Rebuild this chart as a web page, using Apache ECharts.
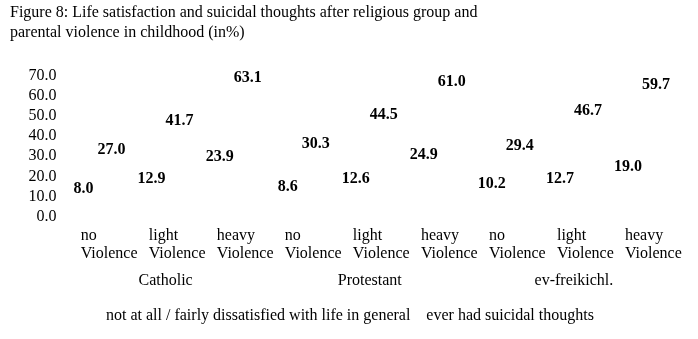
<!DOCTYPE html>
<html>
<head>
<meta charset="utf-8">
<script src="https://cdn.jsdelivr.net/npm/echarts@6/dist/echarts.min.js"></script>
<style>html,body{margin:0;padding:0;background:#fff}#c{width:698px;height:339px}</style>
</head>
<body>
<div id="c"></div>
<script>
var categories = ['no\nViolence','light\nViolence','heavy\nViolence','no\nViolence','light\nViolence','heavy\nViolence','no\nViolence','light\nViolence','heavy\nViolence'];
var groups = ['Catholic','Protestant','ev-freikichl.'];
var dissatisfied = [8.0, 12.9, 23.9, 8.6, 12.6, 24.9, 10.2, 12.7, 19.0];
var suicidal = [27.0, 41.7, 63.1, 30.3, 44.5, 61.0, 29.4, 46.7, 59.7];
var seriesNames = ['not at all / fairly dissatisfied with life in general', 'ever had suicidal thoughts'];
var titleText = 'Figure 8: Life satisfaction and suicidal thoughts after religious group and\nparental violence in childhood (in%)';

var FONT = 'Liberation Serif';
var chart = echarts.init(document.getElementById('c'), null, {renderer: 'canvas'});
var hidden = {show: false};
function labelCfg() {
  return {show: true, position: 'top', distance: 4, color: '#000', fontFamily: FONT, fontSize: 16, fontWeight: 'bold',
    formatter: function (p) { return p.value.toFixed(1); }};
}
chart.setOption({
  animation: false,
  backgroundColor: '#fff',
  title: {text: titleText, left: 10, top: 3, padding: 0,
    textStyle: {fontFamily: FONT, fontSize: 16, fontWeight: 'normal', color: '#000', lineHeight: 20}},
  legend: {data: seriesNames, left: 101, top: 308, padding: 0, itemWidth: 0, itemHeight: 0, itemGap: 11,
    icon: 'rect', textStyle: {fontFamily: FONT, fontSize: 16, color: '#000'}},
  grid: [
    {left: 63.5, right: 22, top: 76, bottom: 122.5},
    {left: 46.7, right: 39, top: 76, bottom: 122.5}
  ],
  xAxis: [
    {type: 'category', gridIndex: 0, data: categories, axisLine: hidden, axisTick: hidden, axisLabel: hidden, splitLine: hidden},
    {type: 'category', gridIndex: 1, data: categories, axisLine: hidden, axisTick: hidden, splitLine: hidden,
      axisLabel: {show: true, interval: 0, align: 'left', margin: 10, fontFamily: FONT, fontSize: 16, lineHeight: 18, color: '#000'}},
    {type: 'category', gridIndex: 0, position: 'bottom', data: groups, axisLine: hidden, axisTick: hidden, splitLine: hidden,
      axisLabel: {show: true, interval: 0, margin: 56, fontFamily: FONT, fontSize: 16, color: '#000'}}
  ],
  yAxis: [
    {type: 'value', gridIndex: 0, min: 0, max: 70, interval: 10, axisLine: hidden, axisTick: hidden, splitLine: hidden,
      axisLabel: {margin: 7, fontFamily: FONT, fontSize: 16, color: '#000', formatter: function (v) { return v.toFixed(1); }}},
    {type: 'value', gridIndex: 1, min: 0, max: 70, interval: 10, show: false}
  ],
  series: [
    {name: seriesNames[0], type: 'bar', xAxisIndex: 0, yAxisIndex: 0, data: dissatisfied, barWidth: 28, barGap: '0%',
      itemStyle: {color: '#ffffff'}, label: labelCfg()},
    {name: seriesNames[1], type: 'bar', xAxisIndex: 0, yAxisIndex: 0, data: suicidal, barWidth: 28, barGap: '0%',
      itemStyle: {color: '#ffffff'}, label: labelCfg()}
  ]
});
</script>
</body>
</html>
